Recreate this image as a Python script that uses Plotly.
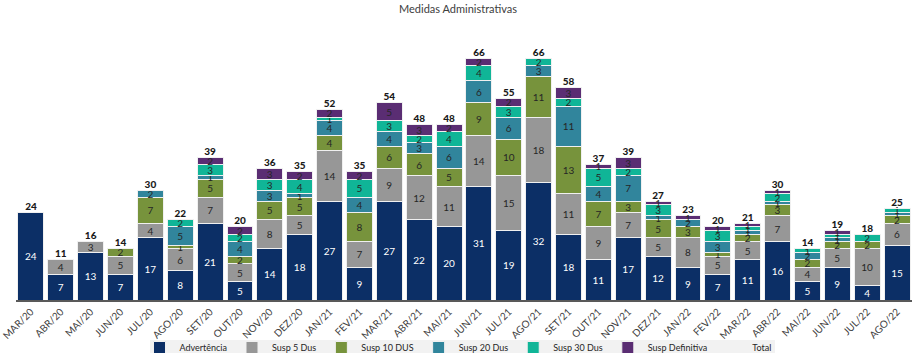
import plotly.graph_objects as go

months = ["MAR/20","ABR/20","MAI/20","JUN/20","JUL/20","AGO/20","SET/20","OUT/20","NOV/20","DEZ/20",
          "JAN/21","FEV/21","MAR/21","ABR/21","MAI/21","JUN/21","JUL/21","AGO/21","SET/21","OUT/21",
          "NOV/21","DEZ/21","JAN/22","FEV/22","MAR/22","ABR/22","MAI/22","JUN/22","JUL/22","AGO/22"]

advertencia = [24, 7, 13, 7, 17, 8, 21, 5, 14, 18, 27, 9, 27, 22, 20, 31, 19, 32, 18, 11, 17, 12, 9, 7, 11, 16, 5, 9, 4, 15]
susp5       = [0, 4, 3, 5, 4, 6, 7, 5, 8, 5, 14, 7, 9, 12, 11, 14, 15, 18, 11, 9, 7, 5, 8, 5, 5, 7, 4, 5, 10, 6]
susp10      = [0, 0, 0, 2, 7, 1, 5, 2, 5, 5, 4, 8, 6, 6, 5, 9, 10, 11, 13, 7, 3, 5, 3, 1, 2, 3, 2, 2, 2, 2]
susp20      = [0, 0, 0, 0, 2, 5, 1, 4, 3, 1, 4, 4, 4, 3, 6, 6, 6, 3, 11, 4, 7, 1, 2, 3, 1, 1, 2, 1, 0, 1]
susp30      = [0, 0, 0, 0, 0, 2, 3, 2, 3, 4, 1, 5, 3, 2, 4, 4, 3, 2, 2, 5, 2, 3, 0, 3, 1, 2, 1, 1, 2, 1]
definitiva  = [0, 0, 0, 0, 0, 0, 2, 2, 3, 2, 2, 2, 5, 3, 2, 2, 2, 0, 3, 1, 3, 1, 1, 1, 1, 1, 0, 1, 0, 0]
totals = [a + b + c + d + e + f for a, b, c, d, e, f in zip(advertencia, susp5, susp10, susp20, susp30, definitiva)]

series = [
    ("Advertência", advertencia, "#0C2F66", "white"),
    ("Susp 5 Dus", susp5, "#979797", "#262626"),
    ("Susp 10 DUS", susp10, "#77933C", "#262626"),
    ("Susp 20 Dus", susp20, "#31859C", "#262626"),
    ("Susp 30 Dus", susp30, "#10B597", "#262626"),
    ("Susp Definitiva", definitiva, "#5A2D73", "#262626"),
]

FONT = "Lato, 'Liberation Sans', sans-serif"
W, H = 916, 353
ML, MR, MT, MB = 16, 4, 22, 53
PW, PH = W - ML - MR, H - MT - MB

def px_x(px):
    return (px - ML) / PW

def px_y(py):
    return (H - MB - py) / PH

fig = go.Figure()
for name, vals, color, tcolor in series:
    texts = [str(v) if v > 0 else "" for v in vals]
    fig.add_trace(go.Bar(
        x=months, y=vals, name=name,
        marker=dict(color=color, line=dict(color="#F0F0F0", width=1)),
        text=texts, textposition="inside", insidetextanchor="middle",
        constraintext="none", textangle=0,
        textfont=dict(size=10, color=tcolor, family=FONT),
        hoverinfo="skip",
    ))

fig.add_trace(go.Scatter(
    x=months, y=totals, mode="text", text=[str(t) for t in totals],
    textposition="top center", textfont=dict(size=10, color="#1a1a1a", family="Lato Black, Lato, sans-serif"),
    showlegend=False, hoverinfo="skip", cliponaxis=False,
))
fig.add_trace(go.Scatter(
    x=[None], y=[None], mode="lines", name="Total",
    line=dict(color="rgba(0,0,0,0)", width=0),
))

fig.update_layout(
    width=W, height=H,
    margin=dict(l=ML, r=MR, t=MT, b=MB, autoexpand=False),
    barmode="stack", bargap=0.13,
    plot_bgcolor="white", paper_bgcolor="white",
    font=dict(family=FONT, size=9, color="#404040"),
    title=dict(text="Medidas Administrativas", x=0.5, xanchor="center", y=0.985, yanchor="top",
               font=dict(size=11, color="#404040", family=FONT)),
    legend=dict(orientation="h", x=0.5, xanchor="center", xref="container",
                y=px_y(333), yanchor="top", yref="paper",
                bgcolor="rgba(0,0,0,0)", font=dict(size=9, color="#262626", family=FONT),
                itemwidth=30, traceorder="normal", tracegroupgap=0),
    shapes=[dict(type="rect", xref="paper", yref="paper",
                 x0=px_x(150), x1=px_x(775), y0=px_y(353), y1=px_y(340),
                 fillcolor="#F2F2F2", line=dict(width=0), layer="below")],
)
fig.update_xaxes(type="category", range=[-0.5, 29.5], tickangle=-45, showline=True,
                 linecolor="#595959", linewidth=2,
                 ticks="", showgrid=False, tickfont=dict(size=10, color="#404040", family=FONT),
                 automargin=False)
fig.update_yaxes(range=[0, 76], visible=False, showgrid=False)

fig.write_html("out.html")
